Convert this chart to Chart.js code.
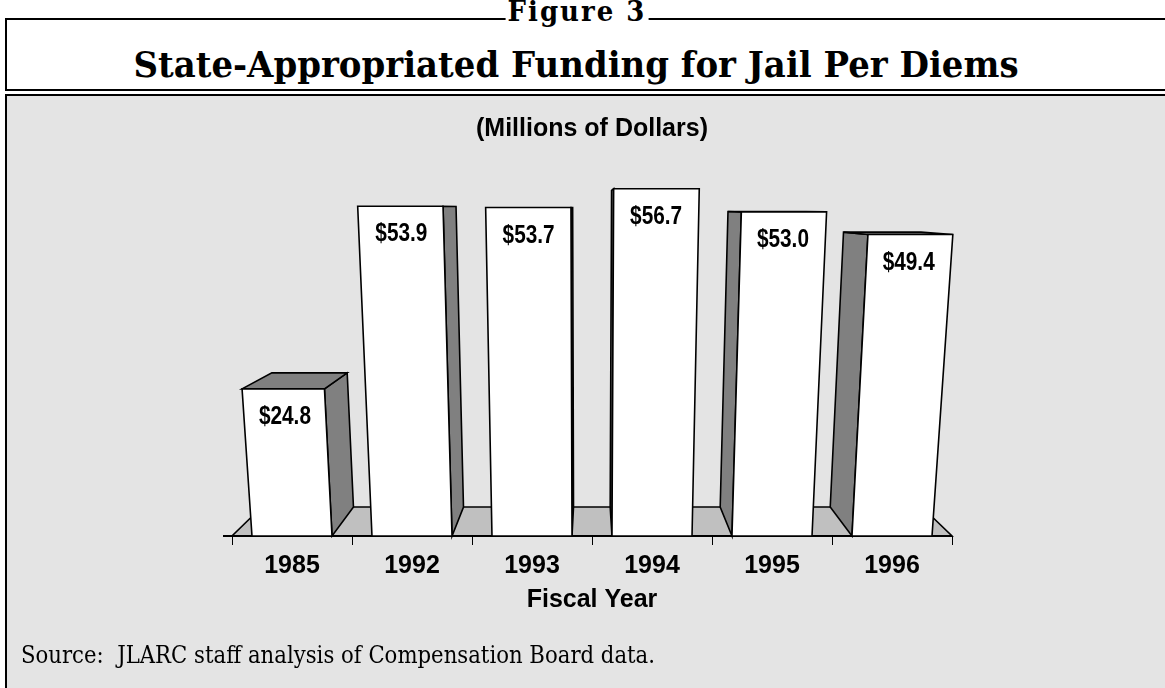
<!DOCTYPE html>
<html>
<head>
<meta charset="utf-8">
<title>State-Appropriated Funding for Jail Per Diems</title>
<script src="https://cdn.jsdelivr.net/npm/chart.js@4.4.1/dist/chart.umd.min.js"></script>
<style>
  html, body { margin:0; padding:0; background:#ffffff; }
  #page { position:relative; width:1165px; height:688px; overflow:hidden; background:#ffffff; }
  .serif { font-family:'DejaVu Serif','Liberation Serif',serif; color:#000; }
  #headBox { position:absolute; left:5px; top:18px; width:1200px; height:69px; border-top:2px solid #000; border-left:2px solid #000; border-bottom:2px solid #000; }
  #figLabel { position:absolute; top:12px; left:577px; transform:translate(-50%,-50%) scaleY(1.05); background:#fff; padding:0 2px; font-weight:bold; line-height:1; white-space:nowrap; font-size:26px; letter-spacing:2px; }
  #title { position:absolute; top:65px; left:576px; transform:translate(-50%,-50%) scaleY(1.06); font-weight:bold; line-height:1; white-space:nowrap; font-size:32px; }
  #panel { position:absolute; left:5px; top:94px; width:1200px; height:700px; border-top:2px solid #000; border-left:2px solid #000; background:#e4e4e4; }
  #source { position:absolute; left:21px; top:655px; transform:translateY(-50%) scaleY(1.12); line-height:1; white-space:pre; font-size:16px; }
  #chartBox { position:absolute; left:0; top:0; width:1165px; height:688px; }
</style>
</head>
<body>
<div id="page">
  <div id="headBox"></div>
  <div id="figLabel" class="serif">Figure 3</div>
  <div id="title" class="serif">State-Appropriated Funding for Jail Per Diems</div>
  <div id="panel"></div>
  <div id="chartBox"><canvas id="chart" width="1165" height="688"></canvas></div>
  <div id="source" class="serif">Source:  JLARC staff analysis of Compensation Board data.</div>
</div>
<script>
// ---- data ----
const fiscalYears = ['1985', '1992', '1993', '1994', '1995', '1996'];
const fundingMillions = [24.8, 53.9, 53.7, 56.7, 53.0, 49.4];
const valueAxisMin = 1.35;
const valueAxisMax = 60;
const unitsLabel = '(Millions of Dollars)';
const categoryAxisLabel = 'Fiscal Year';

// ---- fit header texts to measured widths ----
function fitWidth(id, targetW) {
  const el = document.getElementById(id);
  const cs = getComputedStyle(el);
  const c = document.createElement('canvas').getContext('2d');
  c.font = cs.fontWeight + ' 100px ' + cs.fontFamily;
  const w = c.measureText(el.textContent).width;
  el.style.fontSize = (100 * targetW / w).toFixed(2) + 'px';
}
fitWidth('title', 885);
fitWidth('source', 634);

// ---- 3D look ----
const SANS = "'Liberation Sans', Arial, Helvetica, sans-serif";
Chart.defaults.font.family = SANS;
Chart.defaults.color = '#000';

function geom(chart) {
  const ca = chart.chartArea;
  const VX = (ca.left + ca.right) / 2 - 2;
  const VY = ca.top + 40;
  const DEPTH = 0.0884;
  const KX = (ca.left + ca.right) / 2 - 4;
  const KY = ca.bottom + 4983;
  return {
    VX, VY,
    back: p => [p[0] + DEPTH * (VX - p[0]), p[1] + DEPTH * (VY - p[1])],
    key: p => { const s = (KY - p[1]) / (KY - ca.bottom); return [KX + (p[0] - KX) * s, p[1]]; }
  };
}
function poly(ctx, pts, fill) {
  ctx.beginPath();
  ctx.moveTo(pts[0][0], pts[0][1]);
  for (let i = 1; i < pts.length; i++) ctx.lineTo(pts[i][0], pts[i][1]);
  ctx.closePath();
  ctx.fillStyle = fill;
  ctx.fill();
  ctx.lineWidth = 1.6;
  ctx.strokeStyle = '#000';
  ctx.lineJoin = 'miter';
  ctx.stroke();
}

const solidBars = {
  id: 'solidBars',
  beforeDatasetsDraw(chart) {
    const ctx = chart.ctx, ca = chart.chartArea, g = geom(chart);
    ctx.save();
    const fl = [ca.left, ca.bottom], fr = [ca.right, ca.bottom];
    poly(ctx, [fl, fr, g.back(fr), g.back(fl)].map(g.key), '#c0c0c0');
    ctx.beginPath();
    ctx.moveTo(ca.left - 9, ca.bottom);
    ctx.lineTo(ca.right, ca.bottom);
    ctx.lineWidth = 2;
    ctx.strokeStyle = '#000';
    ctx.stroke();
    ctx.restore();
  },
  afterDatasetsDraw(chart) {
    const ctx = chart.ctx, g = geom(chart);
    const meta = chart.getDatasetMeta(0);
    const vals = chart.data.datasets[0].data;
    ctx.save();
    meta.data.forEach((el, i) => {
      const p = el.getProps(['x', 'y', 'base', 'width'], true);
      const L = p.x - p.width / 2, R = p.x + p.width / 2, T = p.y, B = p.base;
      const tl = [L, T], tr = [R, T], bl = [L, B], br = [R, B];
      if (R < g.VX) poly(ctx, [tr, br, g.back(br), g.back(tr)].map(g.key), '#808080');
      else if (L > g.VX) poly(ctx, [tl, bl, g.back(bl), g.back(tl)].map(g.key), '#808080');
      if (T > g.VY) poly(ctx, [tl, tr, g.back(tr), g.back(tl)].map(g.key), '#808080');
      poly(ctx, [tl, tr, br, bl].map(g.key), '#ffffff');
      // value label
      const ly = T + 28;
      const lc = g.key([p.x, ly]);
      ctx.save();
      ctx.translate(lc[0], lc[1]);
      ctx.scale(0.8, 1);
      ctx.font = 'bold 26px ' + SANS;
      ctx.fillStyle = '#000';
      ctx.textAlign = 'center';
      ctx.textBaseline = 'middle';
      ctx.fillText('$' + vals[i].toFixed(1), 0, 0);
      ctx.restore();
    });
    ctx.restore();
  }
};

new Chart(document.getElementById('chart'), {
  type: 'bar',
  data: {
    labels: fiscalYears,
    datasets: [{
      data: fundingMillions,
      base: valueAxisMin,
      backgroundColor: '#ffffff',
      borderWidth: 0,
      barPercentage: 0.667,
      categoryPercentage: 1
    }]
  },
  options: {
    responsive: false,
    animation: false,
    layout: { padding: { top: 0, left: 232, right: 213, bottom: 72 } },
    plugins: {
      legend: { display: false },
      tooltip: { enabled: false },
      title: {
        display: true,
        text: unitsLabel,
        color: '#000',
        font: { size: 25, weight: 'bold', family: SANS },
        padding: { top: 114, bottom: 24 }
      }
    },
    scales: {
      x: {
        offset: true,
        grid: { display: true, drawOnChartArea: false, drawTicks: true, tickLength: 9, color: '#000', lineWidth: 1, offset: true },
        border: { display: false },
        ticks: { color: '#000', font: { size: 25, weight: 'bold', family: SANS }, padding: 6, maxRotation: 0, autoSkip: false },
        title: { display: true, text: categoryAxisLabel, color: '#000', font: { size: 25, weight: 'bold', family: SANS }, padding: { top: 0, bottom: 1 } },
        afterFit: s => { s.height = 80; }
      },
      y: {
        display: false,
        beginAtZero: false,
        min: valueAxisMin,
        max: valueAxisMax
      }
    }
  },
  plugins: [solidBars]
});
</script>
</body>
</html>
